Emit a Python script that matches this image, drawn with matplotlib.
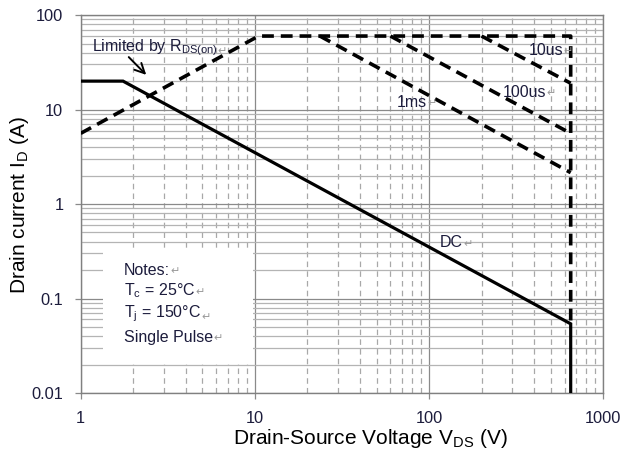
import matplotlib
matplotlib.use("Agg")
import matplotlib.pyplot as plt
from matplotlib.patches import Rectangle
from matplotlib.ticker import LogLocator, FixedLocator, NullFormatter

plt.rcParams['font.family'] = ['Liberation Sans', 'DejaVu Sans']
plt.rcParams['mathtext.fontset'] = 'custom'
plt.rcParams['mathtext.rm'] = 'Liberation Sans'
plt.rcParams['lines.scale_dashes'] = False

# ---- data ----
x_ticks = [1, 10, 100, 1000]
x_tick_labels = ["1", "10", "100", "1000"]
y_ticks = [0.01, 0.1, 1, 10, 100]
y_tick_labels = ["0.01", "0.1", "1", "10", "100"]

dc_v = [1, 1.75, 650, 650]
dc_i = [20, 20, 0.054, 0.01]

envelope_v = [1, 10.5, 650, 650]
envelope_i = [5.6, 60, 60, 0.056]

ms1_v = [23.6, 650]
ms1_i = [60, 2.15]
us100_v = [60, 650]
us100_i = [60, 5.6]
us10_v = [200, 650]
us10_i = [60, 19]

navy = '#1c1c3c'
mark = '#9a9a9a'

fig = plt.figure(figsize=(6.24, 4.57), dpi=100)
ax = fig.add_axes([0.1293, 0.140, 0.8375, 0.827])
ax.set_xscale('log')
ax.set_yscale('log')
ax.set_xlim(1, 1000)
ax.set_ylim(0.01, 100)

ax.set_axisbelow(True)
ax.xaxis.set_major_locator(FixedLocator(x_ticks))
ax.yaxis.set_major_locator(FixedLocator(y_ticks))
ax.set_xticklabels(x_tick_labels)
ax.set_yticklabels(y_tick_labels)
ax.xaxis.set_minor_locator(LogLocator(base=10, subs=range(2, 10)))
ax.yaxis.set_minor_locator(LogLocator(base=10, subs=range(2, 10)))
ax.xaxis.set_minor_formatter(NullFormatter())
ax.yaxis.set_minor_formatter(NullFormatter())

ax.grid(which='major', color='#8a8a8a', lw=0.9, ls='-')
ax.yaxis.grid(which='minor', color='#b4b4b4', lw=0.9, ls='-')
ax.xaxis.grid(which='minor', color='#a8a8a8', lw=0.9, ls=(0, (4, 3)))

ax.tick_params(which='major', direction='out', length=4.3, width=0.9,
               color='#8a8a8a', labelsize=11.8, labelcolor=navy)
ax.tick_params(axis='y', pad=8.2)
ax.tick_params(axis='x', pad=9)
ax.tick_params(which='minor', length=0)
for s in ax.spines.values():
    s.set_color('#808080')
    s.set_linewidth(1.0)

# notes box (covers the grid)
ax.add_patch(Rectangle((0.0427, 0.077), 0.2873, 0.304, transform=ax.transAxes,
                       facecolor='white', edgecolor='none', zorder=1))

dash = (0, (8.5, 5))
ax.plot(dc_v, dc_i, color='black', lw=2.3, solid_joinstyle='miter', zorder=3)
ax.plot(envelope_v, envelope_i, color='black', lw=2.6, ls=dash, zorder=3)
ax.plot(ms1_v, ms1_i, color='black', lw=2.6, ls=dash, zorder=3)
ax.plot(us100_v, us100_i, color='black', lw=2.6, ls=dash, zorder=3)
ax.plot(us10_v, us10_i, color='black', lw=2.6, ls=dash, zorder=3)

def label(fx, fy, s, size=11.5):
    t = ax.text(fx, fy, s, transform=ax.transAxes, fontsize=size, color=navy,
                ha='left', va='center', zorder=4)
    ax.annotate('\u21b5', xy=(1, 0.12), xycoords=t, fontsize=8, color=mark,
                family=['DejaVu Sans'], ha='left', va='bottom', zorder=4)
    return t

label(0.0216, 0.9127, r'Limited by R$_{\mathregular{DS(on)}}$')
label(0.858, 0.907, '10us')
label(0.808, 0.796, '100us')
label(0.605, 0.770, '1ms')
label(0.688, 0.397, 'DC')
label(0.083, 0.325, 'Notes:')
label(0.083, 0.272, r'T$_{\mathregular{c}}$ = 25°C')
label(0.083, 0.209, r'T$_{\mathregular{j}}$ = 150°C')
label(0.083, 0.148, 'Single Pulse')

ax.annotate('', xy=(2.44, 22.2), xytext=(1.84, 37.7),
            arrowprops=dict(arrowstyle='->,head_length=0.7,head_width=0.35',
                            color='black', lw=1.4), zorder=4)

fig.text(20 / 624, 1 - 205 / 457, r'Drain current I$_{\mathregular{D}}$ (A)',
         rotation=90, ha='center', va='center', fontsize=15, color='black')
fig.text(370 / 624, 1 - 439 / 457, r'Drain-Source Voltage V$_{\mathregular{DS}}$ (V)',
         ha='center', va='center', fontsize=15, color='black')

fig.savefig('out.png', dpi=100)
